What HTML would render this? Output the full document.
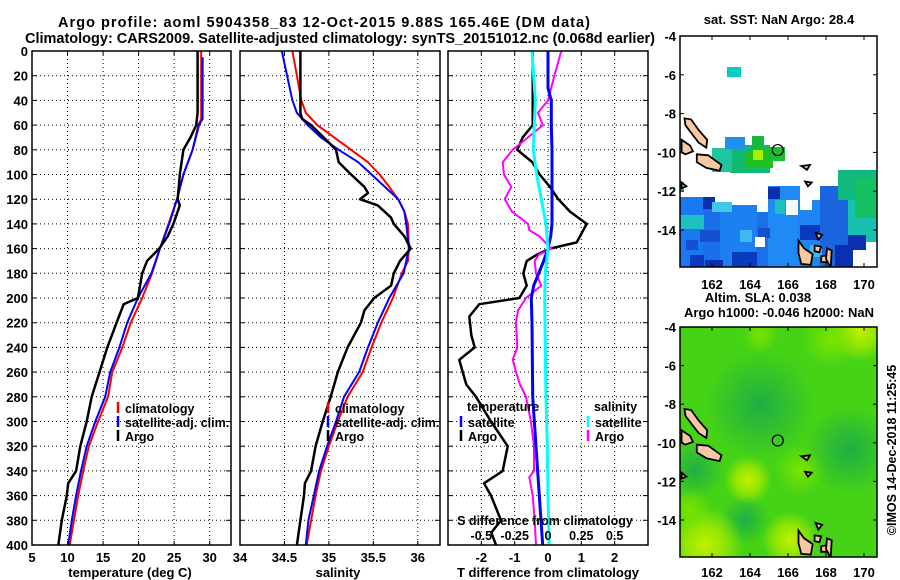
<!DOCTYPE html>
<html><head><meta charset="utf-8">
<style>
html,body{margin:0;padding:0;background:#fff;}
svg{display:block;font-family:"Liberation Sans",Arial,sans-serif;font-weight:bold;}
text{font-weight:bold;}
</style></head>
<body>
<svg id="fig" width="900" height="580" viewBox="0 0 900 580" xmlns="http://www.w3.org/2000/svg">
<defs>
<radialGradient id="gDark"><stop offset="0" stop-color="#1fae45"/><stop offset="1" stop-color="#1fae45" stop-opacity="0"/></radialGradient>
<radialGradient id="gYel"><stop offset="0" stop-color="#c4f000"/><stop offset="0.5" stop-color="#a8ea00" stop-opacity="0.8"/><stop offset="1" stop-color="#a8ea00" stop-opacity="0"/></radialGradient>
<radialGradient id="gLight"><stop offset="0" stop-color="#7ae400"/><stop offset="1" stop-color="#7ae400" stop-opacity="0"/></radialGradient>
<clipPath id="clipTop"><rect x="680" y="36" width="197" height="231"/></clipPath>
<clipPath id="clipBot"><rect x="680" y="327" width="197" height="230"/></clipPath>
</defs>
<g id="root"></g>
</svg>
<script>
// ---------- data ----------
const depthTicks = [0,20,40,60,80,100,120,140,160,180,200,220,240,260,280,300,320,340,360,380,400];
const tempTicks = [5,10,15,20,25,30];
const salTicks = [34,34.5,35,35.5,36];
const tdiffTicks = [-2,-1,0,1,2];
const sdiffTicks = [-0.5,-0.25,0,0.25,0.5];
const sdiffTickLabels = ['-0.5','-0.25','0','0.25','0.5'];

const climTempDepth = [0,55,60,80,100,120,140,160,180,200,220,240,260,280,300,320,340,360,380,400];
const climTemp      = [28.8,28.8,28.4,27.6,26.3,25.4,24.2,23.0,21.9,20.5,18.9,17.7,16.3,15.7,14.3,13.0,12.2,11.5,10.9,10.3];
const satTempDepth  = [5,55,60,80,100,120,140,160,180,200,220,240,260,280,300,320,340,360,380,400];
const satTemp       = [29.0,29.0,28.5,27.6,26.3,25.4,24.3,23.0,21.8,19.9,18.4,17.3,16.0,15.3,13.9,12.7,11.9,11.2,10.6,10.1];
const argoTempDepth = [0,50,60,70,80,100,120,125,140,150,160,170,180,200,205,220,240,260,280,300,320,340,350,360,380,400];
const argoTemp      = [28.3,28.3,28.1,27.3,26.3,25.8,25.5,25.8,24.9,24.1,22.9,21.2,20.5,19.9,17.9,16.9,15.6,14.5,13.4,12.7,11.8,11.2,10.1,9.9,9.2,8.7];

const climSalDepth = [0,20,40,50,60,70,80,90,100,110,120,130,140,160,170,180,200,220,240,260,280,300,320,340,360,380,400];
const climSal      = [34.59,34.64,34.69,34.74,34.87,35.06,35.25,35.44,35.57,35.68,35.78,35.85,35.89,35.90,35.89,35.82,35.72,35.59,35.48,35.38,35.21,35.10,35.00,34.91,34.85,34.80,34.75];
const satSalDepth  = [0,20,40,50,60,70,80,90,100,110,120,130,140,160,180,200,220,240,260,280,300,320,340,360,380,400];
const satSal       = [34.47,34.53,34.59,34.64,34.76,34.91,35.11,35.33,35.48,35.63,35.78,35.85,35.87,35.90,35.84,35.68,35.55,35.44,35.34,35.17,35.08,34.98,34.89,34.83,34.77,34.74];
const argoSalDepth = [0,50,55,60,70,80,90,100,110,115,120,125,135,140,150,160,170,180,190,200,210,220,240,260,280,300,320,340,350,360,380,400];
const argoSal      = [34.68,34.68,34.70,34.80,34.94,35.08,35.11,35.25,35.40,35.44,35.35,35.55,35.70,35.73,35.85,35.92,35.80,35.73,35.70,35.51,35.40,35.36,35.21,35.10,35.02,34.93,34.85,34.80,34.73,34.72,34.68,34.64];

const tdiffArgoDepth = [0,50,60,70,80,90,100,110,120,130,140,150,155,160,165,170,180,190,200,205,215,230,240,250,260,270,280,300,320,340,350,360,380,390,400];
const tdiffArgo      = [-0.46,-0.46,-0.46,-0.76,-0.92,-0.47,-0.25,0.06,0.31,0.66,1.16,0.96,0.86,0.06,-0.34,-0.64,-0.74,-0.64,-0.86,-2.06,-2.36,-2.3,-2.2,-2.66,-2.56,-2.45,-2.16,-1.71,-1.21,-1.36,-1.92,-1.71,-1.41,-1.7,-1.56];
const tdiffSatDepth = [0,30,40,60,80,140,150,160,170,180,190,200,220,280,320,360,400];
const tdiffSat      = [0.0,0.0,0.1,0.1,0.12,0.12,0.08,0.0,-0.13,-0.28,-0.43,-0.5,-0.48,-0.46,-0.36,-0.26,-0.16];
const sdiffSatDepth = [0,40,80,100,120,140,160,180,200,240,280,320,360,400];
const sdiffSat      = [-0.12,-0.095,-0.11,-0.085,-0.05,-0.015,0.0,-0.02,-0.025,-0.02,-0.015,-0.005,0.0,0.008];
const sdiffArgoDepth = [0,20,40,50,60,70,80,90,100,110,120,130,140,145,150,160,165,170,180,190,200,210,220,240,250,260,270,280,300,320,340,345,360,380,400];
const sdiffArgo      = [0.1,0.048,0.0,-0.075,-0.038,-0.15,-0.265,-0.34,-0.33,-0.275,-0.325,-0.27,-0.15,-0.14,-0.065,0.025,-0.07,-0.1,-0.09,-0.05,-0.165,-0.225,-0.24,-0.23,-0.265,-0.24,-0.21,-0.165,-0.128,-0.105,-0.105,-0.14,-0.115,-0.1,-0.09];

const argoLon = 165.46, argoLat = -9.88;
const mapLonTicks = [162,164,166,168,170];
const mapLatTicks = [-4,-6,-8,-10,-12,-14];

// ---------- scales ----------
const Y0 = 51, Y1 = 545;
const yD = d => Y0 + (d/400)*(Y1-Y0);
const P1 = {x0:32, x1:231, v0:5, v1:33};
const P2 = {x0:240, x1:440, v0:34, v1:36.25};
const P3 = {x0:448, x1:648, v0:-3, v1:3};
const sx = (p,v) => p.x0 + (v-p.v0)/(p.v1-p.v0)*(p.x1-p.x0);
const sxS = v => sx(P3, v*4);
const TM = {x0:680, x1:877, y0:36, y1:267};
const BM = {x0:680, x1:877, y0:327, y1:557};
const lonX = lon => 681.6 + (lon-160.4)*19;
const latYT = lat => 36 + (-4-lat)*19.4;
const latYB = lat => 327 + (-4-lat)*19.3;

const NS = 'http://www.w3.org/2000/svg';
const root = document.getElementById('root');
function mk(tag, attrs, parent){ const e=document.createElementNS(NS,tag); for(const k in attrs) e.setAttribute(k,attrs[k]); (parent||root).appendChild(e); return e; }
function txt(s, x, y, size, anchor, parent){ const e=mk('text',{x:x,y:y,'font-size':size,'text-anchor':anchor||'middle',fill:'#000'},parent); e.textContent=s; return e; }

// titles
let t;
t = txt('Argo profile: aoml 5904358_83 12-Oct-2015 9.88S 165.46E (DM data)', 58, 27, 14.5, 'start');
t.setAttribute('textLength','532'); t.setAttribute('lengthAdjust','spacing');
 
t = txt('Climatology: CARS2009. Satellite-adjusted climatology: synTS_20151012.nc (0.068d earlier)', 25, 43, 14.5, 'start');
t.setAttribute('textLength','630'); t.setAttribute('lengthAdjust','spacing');
 

function panel(p, name){
  const g = mk('g',{});
  
  
  const xt = name==='temperature-panel'?tempTicks:(name==='salinity-panel'?salTicks:tdiffTicks);
  xt.forEach(v=>{ const x=sx(p,v); if(x>p.x0+1 && x<p.x1-1){ const l=mk('line',{x1:x,x2:x,y1:Y0,y2:Y1,stroke:'#000','stroke-width':1,'stroke-dasharray':'1,3'},g);   }
    mk('line',{x1:x,x2:x,y1:Y1,y2:Y1-4,stroke:'#000'},g); mk('line',{x1:x,x2:x,y1:Y0,y2:Y0+4,stroke:'#000'},g); });
  depthTicks.forEach(d=>{ const y=yD(d); if(d>0&&d<400){ const l=mk('line',{x1:p.x0,x2:p.x1,y1:y,y2:y,stroke:'#000','stroke-width':1,'stroke-dasharray':'1,3'},g);   }
    mk('line',{x1:p.x0,x2:p.x0+5,y1:y,y2:y,stroke:'#000'},g); mk('line',{x1:p.x1,x2:p.x1-5,y1:y,y2:y,stroke:'#000'},g); });
  return g;
}
function line(g, depths, vals, fx, color, w, name){
  const pts = depths.map((d,i)=>fx(vals[i]).toFixed(1)+','+yD(d).toFixed(1)).join(' ');
  const e = mk('polyline',{points:pts,fill:'none',stroke:color,'stroke-width':w,'stroke-linejoin':'round'},g);
  
  
}
function frame(g,p){ const r=mk('rect',{x:p.x0,y:Y0,width:p.x1-p.x0,height:Y1-Y0,fill:'none',stroke:'#000','stroke-width':1.5},g);   }
function legendItem(g,x,y,color,label,name){
  mk('line',{x1:x,x2:x,y1:y-11,y2:y,stroke:color,'stroke-width':2.5},g);
  const e=txt(label,x+7,y,12.5,'start',g);
   
}

// panel 1
const g1 = panel(P1,'temperature-panel');
line(g1, climTempDepth, climTemp, v=>sx(P1,v), '#ff0000', 2, 'climatology-temperature-line');
line(g1, satTempDepth, satTemp, v=>sx(P1,v), '#0000ff', 2, 'satellite-temperature-line');
line(g1, argoTempDepth, argoTemp, v=>sx(P1,v), '#000', 2.5, 'argo-temperature-line');
frame(g1,P1);
legendItem(g1,118,413,'#ff0000','climatology','legend-climatology');
legendItem(g1,118,427,'#0000ff','satellite-adj. clim.','legend-satellite-adj');
legendItem(g1,118,441,'#000','Argo','legend-argo');
depthTicks.forEach(d=>{ const e=txt(String(d),28,yD(d)+5,13,'end');   });
tempTicks.forEach(v=>{ const e=txt(String(v),sx(P1,v),562,13);   });
t=txt('temperature (deg C)',130,577,13);  

// panel 2
const g2 = panel(P2,'salinity-panel');
line(g2, climSalDepth, climSal, v=>sx(P2,v), '#ff0000', 2, 'climatology-salinity-line');
line(g2, satSalDepth, satSal, v=>sx(P2,v), '#0000ff', 2, 'satellite-salinity-line');
line(g2, argoSalDepth, argoSal, v=>sx(P2,v), '#000', 2.5, 'argo-salinity-line');
frame(g2,P2);
legendItem(g2,328,413,'#ff0000','climatology','legend-climatology');
legendItem(g2,328,427,'#0000ff','satellite-adj. clim.','legend-satellite-adj');
legendItem(g2,328,441,'#000','Argo','legend-argo');
salTicks.forEach(v=>{ const e=txt(String(v),sx(P2,v),562,13);   });
t=txt('salinity',338,577,13);  

// panel 3
const g3 = panel(P3,'difference-panel');
line(g3, tdiffArgoDepth, tdiffArgo, v=>sx(P3,v), '#000', 2.5, 'argo-temperature-difference-line');
line(g3, sdiffArgoDepth, sdiffArgo, sxS, '#ff00ff', 2, 'argo-salinity-difference-line');
line(g3, tdiffSatDepth, tdiffSat, v=>sx(P3,v), '#0000ff', 3, 'satellite-temperature-difference-line');
line(g3, sdiffSatDepth, sdiffSat, sxS, '#00ffff', 3, 'satellite-salinity-difference-line');
frame(g3,P3);
t=txt('temperature',467,411,12.5,'start',g3);  
legendItem(g3,461,427,'#0000ff','satellite','legend-temperature-satellite');
legendItem(g3,461,441,'#000','Argo','legend-temperature-argo');
t=txt('salinity',594,411,12.5,'start',g3);  
legendItem(g3,588,427,'#00ffff','satellite','legend-salinity-satellite');
legendItem(g3,588,441,'#ff00ff','Argo','legend-salinity-argo');
t=txt('S difference from climatology',545,525,12.5);  
sdiffTicks.forEach((v,i)=>{ const e=txt(sdiffTickLabels[i],sxS(v),540,12.5);   });
tdiffTicks.forEach(v=>{ const e=txt(String(v),sx(P3,v),562,13);   });
t=txt('T difference from climatology',548,577,13);  

// ---------- maps ----------
const islands = [
  [[160.55,-8.25],[160.9,-8.3],[161.3,-8.85],[161.75,-9.35],[161.7,-9.75],[161.3,-9.5],[160.95,-9.05],[160.6,-8.6]],
  [[161.2,-10.1],[161.8,-10.15],[162.5,-10.65],[162.4,-10.95],[161.7,-10.8],[161.2,-10.5]],
  [[160.4,-9.35],[160.85,-9.65],[161.0,-9.95],[160.6,-10.1],[160.4,-10.0]],
  [[166.55,-14.55],[166.85,-14.95],[167.3,-15.25],[167.2,-15.8],[166.7,-15.75],[166.55,-15.2]],
  [[167.45,-14.15],[167.8,-14.25],[167.6,-14.5]],
  [[167.4,-14.8],[167.75,-14.85],[167.65,-15.15],[167.4,-15.1]],
  [[167.75,-15.35],[168.15,-15.3],[168.05,-15.65],[167.75,-15.65]],
  [[166.7,-10.7],[167.15,-10.65],[167.0,-10.9]],
  [[166.9,-11.5],[167.25,-11.55],[167.05,-11.75]],
  [[168.05,-14.95],[168.3,-15.05],[168.25,-15.95],[168.0,-15.5]],
  [[160.4,-11.55],[160.65,-11.75],[160.4,-11.85]]
];
function drawIslands(g, latY){
  islands.forEach(poly=>{
    const e=mk('polygon',{points:poly.map(p=>lonX(p[0]).toFixed(1)+','+latY(p[1]).toFixed(1)).join(' '),fill:'#f8c8a0',stroke:'#000','stroke-width':1.8},g);
    
    
  });
}
function mapAxes(m, latY, labelY, name){
  const g = mk('g',{});
  
  
  mk('rect',{x:m.x0,y:m.y0,width:m.x1-m.x0,height:m.y1-m.y0,fill:'none',stroke:'#000','stroke-width':1.5},g);
  mapLonTicks.forEach(l=>{ const x=lonX(l); mk('line',{x1:x,x2:x,y1:m.y1,y2:m.y1-4,stroke:'#000'},g); mk('line',{x1:x,x2:x,y1:m.y0,y2:m.y0+4,stroke:'#000'},g);
    const e=txt(String(l),x,labelY,13,'middle',g);   });
  mapLatTicks.forEach(l=>{ const y=latY(l); mk('line',{x1:m.x0,x2:m.x0+4,y1:y,y2:y,stroke:'#000'},g); mk('line',{x1:m.x1,x2:m.x1-4,y1:y,y2:y,stroke:'#000'},g);
    const e=txt(String(l),676,y+5,13,'end',g);   });
}
// SST map cells
const gT = mk('g',{'clip-path':'url(#clipTop)'});


mk('rect',{x:680,y:36,width:197,height:231,fill:'#fff'},gT);
const sstCells = [
 [680,197,26,70,'#1a78f0'],[703,209,20,58,'#1a6fe8'],[720,205,37,62,'#1d80f2'],[757,212,14,55,'#1a70e6'],
 [768,186,32,81,'#1f8af5'],[768,187,12,12,'#0a2fb0'],[798,200,24,67,'#1e86f2'],[820,186,28,81,'#1a66e0'],
 [848,196,29,46,'#18c0b0'],[838,170,39,30,'#10b880'],[855,178,22,40,'#14c060'],[848,235,18,15,'#0a2fb0'],
 [703,197,12,12,'#0a2fb0'],[680,215,24,14,'#20c0c0'],[705,260,18,7,'#0a2fb0'],[732,252,25,15,'#0a3ac0'],
 [700,230,20,12,'#1450d0'],[758,228,12,10,'#1450d0'],[800,225,20,15,'#0a3ac0'],[835,245,18,22,'#0a2fb0'],
 [775,200,10,14,'#20c0c0'],[712,202,20,10,'#40c8e8'],[755,237,10,10,'#ffffff'],[866,242,11,25,'#ffffff'],
 [686,240,12,10,'#1450d0'],[740,230,12,12,'#40b8f0'],[690,255,14,12,'#0a3ac0'],[810,245,12,12,'#40b8f0'],
 [730,145,40,28,'#10b870'],[712,148,20,24,'#20c4a0'],[725,137,20,12,'#2090f0'],[752,136,12,14,'#18b840'],
 [745,152,28,16,'#20c020'],[753,150,10,10,'#a8f000'],[765,147,20,14,'#18c030'],[727,67,14,10,'#00d0c0'],
 [680,182,4,9,'#20c0c0'],[800,200,12,10,'#ffffff'],[786,200,12,15,'#ffffff']
];
sstCells.forEach(c=>{ const e=mk('rect',{x:c[0],y:c[1],width:c[2],height:c[3],fill:c[4]},gT);   });
drawIslands(gT, latYT);
t=mk('circle',{cx:lonX(argoLon),cy:latYT(argoLat),r:5.5,fill:'none',stroke:'#000','stroke-width':1.2},gT);
 
mapAxes(TM, latYT, 289, 'sst-map');
t=txt('sat. SST: NaN Argo: 28.4',779,24,13);  

// SLA map
const gB = mk('g',{'clip-path':'url(#clipBot)'});


mk('rect',{x:680,y:327,width:197,height:230,fill:'#46d316'},gB);
const slaBlobs = [
 [760,405,55,'gDark'],[850,450,45,'gDark'],[695,470,30,'gDark'],[745,520,25,'gDark'],
 [705,545,38,'gYel'],[748,480,24,'gYel'],[790,540,28,'gYel'],[860,330,32,'gYel'],
 [800,470,25,'gLight'],[830,340,28,'gLight'],[690,510,22,'gLight'],[760,335,18,'gLight']
];
slaBlobs.forEach(b=>{ const e=mk('circle',{cx:b[0],cy:b[1],r:b[2],fill:'url(#'+b[3]+')'},gB);   });
drawIslands(gB, latYB);
t=mk('circle',{cx:lonX(argoLon),cy:latYB(argoLat),r:5.5,fill:'none',stroke:'#000','stroke-width':1.2},gB);
 
mapAxes(BM, latYB, 577, 'sla-map');
t=txt('Altim. SLA: 0.038',758,302,13);  
t=txt('Argo h1000: -0.046 h2000: NaN',779,317,13);  
t=txt('©IMOS 14-Dec-2018 11:25:45',0,0,12.5,'middle');
t.setAttribute('transform','translate(896,450) rotate(-90)');


</script>
</body></html>
